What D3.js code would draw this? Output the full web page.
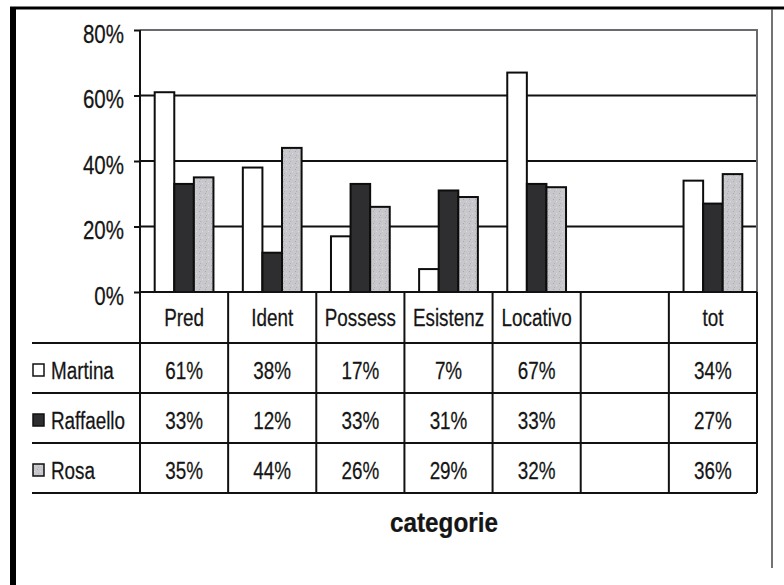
<!DOCTYPE html>
<html>
<head>
<meta charset="utf-8">
<script src="https://cdn.jsdelivr.net/npm/d3@7"></script>
<style>
  html, body { margin: 0; padding: 0; background: #fff; }
  svg { display: block; }
  text { font-family: "Liberation Sans", Arial, sans-serif; fill: #151515; stroke: #151515; stroke-width: 0.25; }
</style>
</head>
<body>
<svg id="chart" width="784" height="585"></svg>
<script>
// Categories (the sixth column is intentionally left blank)
const categories = ["Pred", "Ident", "Possess", "Esistenz", "Locativo", "", "tot"];
const seriesNames = ["Martina", "Raffaello", "Rosa"];
// Percentages per category; null where the column is empty
const martina   = [61, 38, 17, 7, 67, null, 34];
const raffaello = [33, 12, 33, 31, 33, null, 27];
const rosa      = [35, 44, 26, 29, 32, null, 36];
const yTicks = [0, 20, 40, 60, 80];
const axisTitle = "categorie";

const seriesValues = [martina, raffaello, rosa];
const fills = ["#ffffff", "#2e2e30", "#c7c7cc"];

const svg = d3.select("#chart");

// Outer frame of the figure
svg.append("rect").attr("width", 784).attr("height", 585).attr("fill", "#fff");
svg.append("line").attr("x1", 10).attr("x2", 784).attr("y1", 8).attr("y2", 8)
  .attr("stroke", "#000").attr("stroke-width", 3);
svg.append("line").attr("x1", 13).attr("x2", 13).attr("y1", 7).attr("y2", 585)
  .attr("stroke", "#000").attr("stroke-width", 6);
svg.append("line").attr("x1", 772).attr("x2", 772).attr("y1", 9).attr("y2", 568)
  .attr("stroke", "#444").attr("stroke-width", 1.5);

// Speckled grey fill for the third series
const defs = svg.append("defs");
const pat = defs.append("pattern").attr("id", "speckle").attr("patternUnits", "userSpaceOnUse")
  .attr("width", 6).attr("height", 6);
pat.append("rect").attr("width", 6).attr("height", 6).attr("fill", fills[2]);
pat.append("rect").attr("x", 1).attr("y", 1).attr("width", 1).attr("height", 1).attr("fill", "#a9a9b0");
pat.append("rect").attr("x", 4).attr("y", 3).attr("width", 1).attr("height", 1).attr("fill", "#dedee2");
pat.append("rect").attr("x", 2).attr("y", 5).attr("width", 1).attr("height", 1).attr("fill", "#b0b0b6");
const fillFor = i => i === 2 ? "url(#speckle)" : fills[i];

// Plot geometry
const plotLeft = 140, plotRight = 757, plotTop = 30, plotBottom = 292;
const x = d3.scaleBand().domain(categories).range([plotLeft, plotRight]).paddingInner(0).paddingOuter(0);
const xs = d3.scaleBand().domain(seriesNames).range([0, x.bandwidth()]).paddingInner(0).paddingOuter(0.75);
const y = d3.scaleLinear().domain([0, 80]).range([plotBottom, plotTop]);

// Gridlines
svg.append("g").selectAll("line").data(yTicks.filter(t => t > 0 && t < 80)).join("line")
  .attr("x1", plotLeft).attr("x2", plotRight)
  .attr("y1", d => y(d)).attr("y2", d => y(d))
  .attr("stroke", "#111").attr("stroke-width", 2);

// Plot area border (top and right)
svg.append("path")
  .attr("d", `M${plotLeft},${y(80)}H${plotRight}V${plotBottom}`)
  .attr("fill", "none").attr("stroke", "#6a6a6e").attr("stroke-width", 2);

// Bars
const barG = svg.append("g");
seriesValues.forEach((vals, si) => {
  barG.append("g").selectAll("rect")
    .data(categories.map((c, i) => ({ c, v: vals[i] })).filter(d => d.v != null))
    .join("rect")
    .attr("x", d => x(d.c) + xs(seriesNames[si]))
    .attr("width", xs.bandwidth())
    .attr("y", d => y(d.v))
    .attr("height", d => y(0) - y(d.v))
    .attr("fill", fillFor(si))
    .attr("stroke", "#0d0d0d").attr("stroke-width", 2);
});

// Y axis
const yAxis = d3.axisLeft(y).tickValues(yTicks).tickSize(6).tickPadding(0).tickFormat(d => d + "%");
const yG = svg.append("g").attr("transform", `translate(${plotLeft},0)`).call(yAxis);
yG.select(".domain").remove();
yG.selectAll(".tick line").attr("stroke", "#111").attr("stroke-width", 2);
yG.selectAll(".tick text").remove();
yG.selectAll(".tick").append("text")
  .attr("text-anchor", "end")
  .attr("font-size", 25)
  .attr("transform", "translate(-16,12) scale(0.82,1)")
  .text(d => d + "%");
svg.append("line").attr("x1", plotLeft).attr("x2", plotLeft).attr("y1", plotTop).attr("y2", plotBottom)
  .attr("stroke", "#111").attr("stroke-width", 2);

// Data table below the axis
const headerBottom = 343;
const rows = d3.scaleBand().domain(seriesNames).range([headerBottom, 493]);
const tableLeft = 32;
const tG = svg.append("g");
const lineStyle = s => s.attr("stroke", "#111").attr("stroke-width", 2);

// horizontal rules
tG.append("line").attr("x1", plotLeft).attr("x2", plotRight).attr("y1", plotBottom).attr("y2", plotBottom).call(lineStyle);
seriesNames.forEach(n => {
  tG.append("line").attr("x1", tableLeft).attr("x2", plotRight)
    .attr("y1", rows(n)).attr("y2", rows(n)).call(lineStyle);
});
tG.append("line").attr("x1", tableLeft).attr("x2", plotRight)
  .attr("y1", rows.range()[1]).attr("y2", rows.range()[1]).call(lineStyle);
// vertical rules
const colEdges = categories.map(c => x(c)).concat([plotRight]);
tG.selectAll("line.v").data(colEdges).join("line").attr("class", "v")
  .attr("x1", d => d).attr("x2", d => d)
  .attr("y1", plotBottom).attr("y2", rows.range()[1]).call(lineStyle);

const cellText = (g, tx, ty, str, anchor) =>
  g.append("text").attr("text-anchor", anchor || "middle").attr("font-size", 23)
    .attr("transform", `translate(${tx},${ty}) scale(0.82,1)`).text(str);

// header row
categories.forEach(c => cellText(tG, x(c) + x.bandwidth() / 2, (plotBottom + headerBottom) / 2 + 8, c));

// series rows with legend keys
seriesNames.forEach((n, si) => {
  const cy = rows(n) + rows.bandwidth() / 2 + 3;
  tG.append("rect").attr("x", 33).attr("y", cy - 7).attr("width", 11).attr("height", 12)
    .attr("fill", fillFor(si)).attr("stroke", "#111").attr("stroke-width", 1.5);
  cellText(tG, 51, cy + 8, n, "start");
  seriesValues[si].forEach((v, ci) => {
    if (v != null) cellText(tG, x(categories[ci]) + x.bandwidth() / 2, cy + 8, v + "%");
  });
});

// Axis title
svg.append("text").attr("text-anchor", "middle").attr("font-size", 27).attr("font-weight", "bold")
  .attr("transform", `translate(444,532) scale(0.9,1)`).text(axisTitle);
</script>
</body>
</html>
